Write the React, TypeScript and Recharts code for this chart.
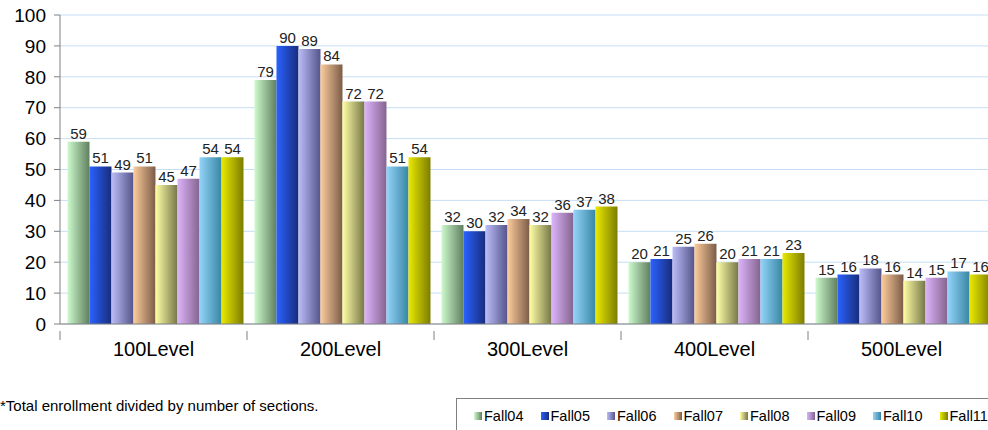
import { BarChart, Bar, XAxis, YAxis, CartesianGrid, LabelList } from "recharts";

const levels = ["100Level", "200Level", "300Level", "400Level", "500Level"];
const terms = ["Fall04", "Fall05", "Fall06", "Fall07", "Fall08", "Fall09", "Fall10", "Fall11"];

const fall04 = [59, 79, 32, 20, 15];
const fall05 = [51, 90, 30, 21, 16];
const fall06 = [49, 89, 32, 25, 18];
const fall07 = [51, 84, 34, 26, 16];
const fall08 = [45, 72, 32, 20, 14];
const fall09 = [47, 72, 36, 21, 15];
const fall10 = [54, 51, 37, 21, 17];
const fall11 = [54, 54, 38, 23, 16];

const yTicks = [0, 10, 20, 30, 40, 50, 60, 70, 80, 90, 100];

// light -> dark, left to right on each bar
const shades = [
  ["#cdfacd", "#5f7f5f"],
  ["#2a62ff", "#182c7c"],
  ["#bcbcf8", "#55558c"],
  ["#fccc9c", "#7c5c48"],
  ["#ffffa4", "#76764a"],
  ["#dcb4fa", "#84648f"],
  ["#94d4fa", "#3886a4"],
  ["#eaea00", "#7c7c00"],
];

const series = [fall04, fall05, fall06, fall07, fall08, fall09, fall10, fall11];

const data = levels.map((level, i) => {
  const row: Record<string, string | number> = { level };
  terms.forEach((t, j) => {
    row[t] = series[j][i];
  });
  return row;
});

const font = "'Liberation Sans', Arial, sans-serif";
const CHART_W = 995;
const BAND = (CHART_W - 60) / levels.length;

function LevelTick(props: any) {
  const { x, y, payload, index } = props;
  const left = x - BAND / 2;
  return (
    <g>
      <line x1={left} y1={y - 1} x2={left} y2={y + 8} stroke="#808080" />
      {index === levels.length - 1 && (
        <line x1={x + BAND / 2} y1={y - 1} x2={x + BAND / 2} y2={y + 8} stroke="#808080" />
      )}
      <text x={x} y={y + 24} textAnchor="middle" fontSize={20} fill="#000" fontFamily={font}>
        {payload.value}
      </text>
    </g>
  );
}

export default function App() {
  return (
    <div
      style={{
        position: "fixed",
        left: 0,
        top: 0,
        width: 988,
        height: 430,
        overflow: "hidden",
        background: "#fff",
        fontFamily: font,
      }}
    >
      <BarChart
        width={CHART_W}
        height={370}
        data={data}
        margin={{ top: 15, right: 0, left: 0, bottom: 0 }}
        barCategoryGap="4%"
        barGap={0}
      >
        <defs>
          {shades.map((s, i) => (
            <linearGradient key={i} id={`g${i}`} x1="0" y1="0" x2="1" y2="0">
              <stop offset="0%" stopColor={s[0]} />
              <stop offset="100%" stopColor={s[1]} />
            </linearGradient>
          ))}
        </defs>
        <CartesianGrid vertical={false} stroke="#c6def4" />
        <XAxis
          dataKey="level"
          height={46}
          stroke="#808080"
          tickLine={false}
          tick={<LevelTick />}
          interval={0}
        />
        <YAxis
          width={60}
          domain={[0, 100]}
          ticks={yTicks}
          stroke="#808080"
          tickSize={6}
          tickMargin={8}
          tick={{ fill: "#000", fontSize: 19, fontFamily: font }}
        />
        {terms.map((t, i) => (
          <Bar key={t} dataKey={t} fill={`url(#g${i})`} isAnimationActive={false}>
            <LabelList
              dataKey={t}
              position="top"
              offset={3}
              fill="#222"
              fontSize={15}
              fontFamily={font}
            />
          </Bar>
        ))}
      </BarChart>

      <div
        style={{
          position: "absolute",
          left: 0,
          top: 397,
          fontSize: 15,
          color: "#000",
          whiteSpace: "nowrap",
        }}
      >
        *Total enrollment divided by number of sections.
      </div>

      <div
        style={{
          position: "absolute",
          left: 456,
          top: 398,
          width: 560,
          height: 60,
          border: "1px solid #808080",
          boxSizing: "border-box",
          display: "flex",
          alignItems: "flex-start",
          paddingTop: 9,
          paddingLeft: 17,
          fontSize: 14.5,
          whiteSpace: "nowrap",
        }}
      >
        {terms.map((t, i) => (
          <div key={t} style={{ display: "flex", alignItems: "center", marginRight: 17 }}>
            <span
              style={{
                display: "inline-block",
                width: 8,
                height: 8,
                marginRight: 2,
                background: `linear-gradient(to right, ${shades[i][0]}, ${shades[i][1]})`,
              }}
            />
            {t}
          </div>
        ))}
      </div>
    </div>
  );
}
